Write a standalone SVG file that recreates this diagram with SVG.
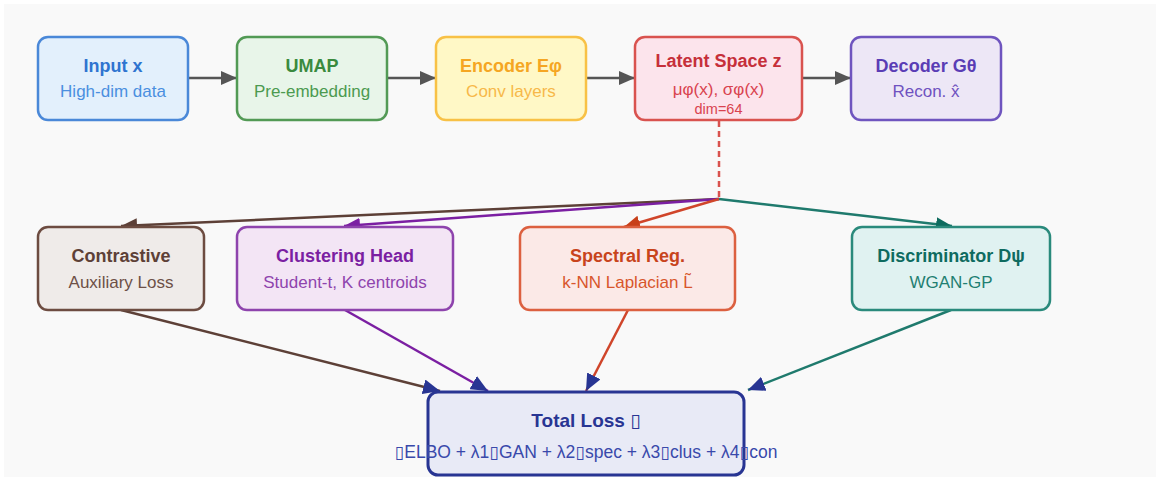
<svg xmlns="http://www.w3.org/2000/svg" width="1161" height="481" viewBox="0 0 1161 481">
  <style>
    text { font-family: "Liberation Sans", Arial, "DejaVu Sans", sans-serif; text-anchor: middle; }
    .title { font-size: 18px; font-weight: bold; }
    .sub { font-size: 17px; }
    .small { font-size: 14.5px; }
    .box { stroke-width: 2.5; }
    .flow { fill: none; stroke-width: 2.5; }
  </style>
  <defs>
    <marker id="ah-gray" markerUnits="userSpaceOnUse" markerWidth="16" markerHeight="14" refX="16" refY="7" orient="auto">
      <path d="M0,0 L16,7 L0,14 z" fill="#555555"/>
    </marker>
    <marker id="ah-brown" markerUnits="userSpaceOnUse" markerWidth="16" markerHeight="14" refX="16" refY="7" orient="auto">
      <path d="M0,0 L16,7 L0,14 z" fill="#5d4037"/>
    </marker>
    <marker id="ah-purple" markerUnits="userSpaceOnUse" markerWidth="16" markerHeight="14" refX="16" refY="7" orient="auto">
      <path d="M0,0 L16,7 L0,14 z" fill="#7b1fa2"/>
    </marker>
    <marker id="ah-red" markerUnits="userSpaceOnUse" markerWidth="16" markerHeight="14" refX="16" refY="7" orient="auto">
      <path d="M0,0 L16,7 L0,14 z" fill="#c8401a"/>
    </marker>
    <marker id="ah-teal" markerUnits="userSpaceOnUse" markerWidth="16" markerHeight="14" refX="16" refY="7" orient="auto">
      <path d="M0,0 L16,7 L0,14 z" fill="#0e6b5e"/>
    </marker>
    <marker id="ah-navy" markerUnits="userSpaceOnUse" markerWidth="17" markerHeight="15" refX="17" refY="7.5" orient="auto">
      <path d="M0,0 L17,7.5 L0,15 z" fill="#283593"/>
    </marker>
  </defs>

  <!-- page -->
  <rect x="0" y="0" width="1161" height="481" fill="#ffffff"/>
  <rect x="4" y="4" width="1152" height="473" fill="#f9f9f9"/>

  <!-- connectors -->
  <g id="connectors">
    <line class="flow" x1="188" y1="78" x2="237" y2="78" stroke="#555555" marker-end="url(#ah-gray)"/>
    <line class="flow" x1="387" y1="78" x2="436" y2="78" stroke="#555555" marker-end="url(#ah-gray)"/>
    <line class="flow" x1="586" y1="78" x2="635" y2="78" stroke="#555555" marker-end="url(#ah-gray)"/>
    <line class="flow" x1="802" y1="78" x2="851" y2="78" stroke="#555555" marker-end="url(#ah-gray)"/>

    <line class="flow" x1="719" y1="121" x2="719" y2="199" stroke="#d9534f" stroke-dasharray="6 4"/>

    <line class="flow" x1="719" y1="199" x2="121" y2="226" stroke="#5d4037" marker-end="url(#ah-brown)"/>
    <line class="flow" x1="719" y1="199" x2="344" y2="226" stroke="#7b1fa2" marker-end="url(#ah-purple)"/>
    <line class="flow" x1="719" y1="199" x2="624" y2="227" stroke="#d0452a" marker-end="url(#ah-red)"/>
    <line class="flow" x1="719" y1="199" x2="952" y2="226" stroke="#1f7a6d" marker-end="url(#ah-teal)"/>

    <line class="flow" x1="121" y1="310" x2="440" y2="391" stroke="#5d4037" marker-end="url(#ah-navy)"/>
    <line class="flow" x1="345" y1="310" x2="488" y2="391" stroke="#7b1fa2" marker-end="url(#ah-navy)"/>
    <line class="flow" x1="628" y1="310" x2="586" y2="391" stroke="#d0452a" marker-end="url(#ah-navy)"/>
    <line class="flow" x1="951" y1="310" x2="748" y2="390" stroke="#1f7a6d" marker-end="url(#ah-navy)"/>
  </g>

  <!-- top row -->
  <g id="node-input">
    <rect class="box" x="38" y="37" width="150" height="83" rx="10" fill="#e3f0fc" stroke="#4a88d8"/>
    <text class="title" x="113" y="72" fill="#2f74d0">Input x</text>
    <text class="sub" x="113" y="97" fill="#4a8fe0">High-dim data</text>
  </g>
  <g id="node-umap">
    <rect class="box" x="237" y="37" width="150" height="83" rx="10" fill="#e8f5e9" stroke="#529a55"/>
    <text class="title" x="312" y="72" fill="#3a8a3e">UMAP</text>
    <text class="sub" x="312" y="97" fill="#4c9a50">Pre-embedding</text>
  </g>
  <g id="node-encoder">
    <rect class="box" x="436" y="37" width="150" height="83" rx="10" fill="#fff8c6" stroke="#f8c146"/>
    <text class="title" x="511" y="72" fill="#f5a623">Encoder Eφ</text>
    <text class="sub" x="511" y="97" fill="#f7b84a">Conv layers</text>
  </g>
  <g id="node-latent">
    <rect class="box" x="635" y="37" width="167" height="83" rx="10" fill="#fce4ec" stroke="#d9534f"/>
    <text class="title" x="718.5" y="67" fill="#c62f3a">Latent Space z</text>
    <text class="sub" x="718.5" y="95" fill="#d9434f">μφ(x), σφ(x)</text>
    <text class="small" x="718.5" y="114" fill="#d9434f">dim=64</text>
  </g>
  <g id="node-decoder">
    <rect class="box" x="851" y="37" width="150" height="83" rx="10" fill="#ede7f6" stroke="#6f55bf"/>
    <text class="title" x="926" y="72" fill="#5a3db5">Decoder Gθ</text>
    <text class="sub" x="926" y="97" fill="#6f52c0">Recon. x̂</text>
  </g>

  <!-- loss heads -->
  <g id="node-contrastive">
    <rect class="box" x="38" y="227" width="166" height="83" rx="10" fill="#efebe9" stroke="#6d4c41"/>
    <text class="title" x="121" y="262" fill="#5d4037">Contrastive</text>
    <text class="sub" x="121" y="288" fill="#6d5047">Auxiliary Loss</text>
  </g>
  <g id="node-clustering">
    <rect class="box" x="237" y="227" width="216" height="83" rx="10" fill="#f3e5f5" stroke="#8e44ad"/>
    <text class="title" x="345" y="262" fill="#7b1fa2">Clustering Head</text>
    <text class="sub" x="345" y="288" fill="#8e44ad">Student-t, K centroids</text>
  </g>
  <g id="node-spectral">
    <rect class="box" x="520" y="227" width="215" height="83" rx="10" fill="#fbe9e7" stroke="#dc6040"/>
    <text class="title" x="627.5" y="262" fill="#c8441c">Spectral Reg.</text>
    <text class="sub" x="627.5" y="288" fill="#d8562c">k-NN Laplacian L̃</text>
  </g>
  <g id="node-discriminator">
    <rect class="box" x="852" y="227" width="198" height="83" rx="10" fill="#e0f2f1" stroke="#2a8a7c"/>
    <text class="title" x="951" y="262" fill="#0e6b60">Discriminator Dψ</text>
    <text class="sub" x="951" y="288" fill="#1f7f72">WGAN-GP</text>
  </g>

  <!-- objective -->
  <g id="node-total">
    <rect x="428" y="392" width="316" height="83" rx="10" fill="#e8eaf6" stroke="#283593" stroke-width="3"/>
    <text class="title" x="586" y="427" fill="#283593" style="font-size:19px">Total Loss ▯</text>
    <text class="sub" x="586" y="458" fill="#3949ab" style="font-size:17.5px">▯ELBO + λ1▯GAN + λ2▯spec + λ3▯clus + λ4▯con</text>
  </g>
</svg>
